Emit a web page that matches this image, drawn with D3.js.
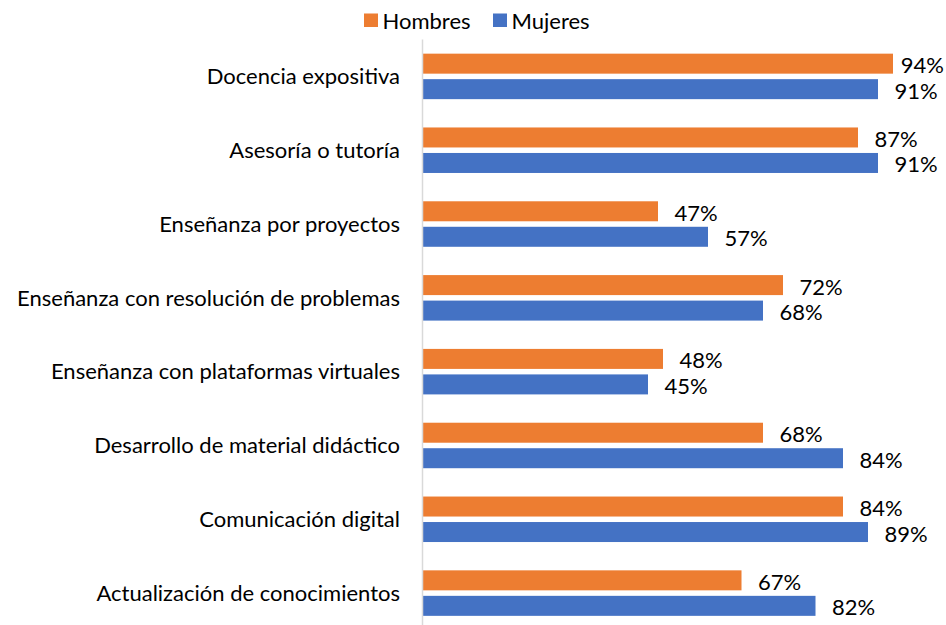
<!DOCTYPE html>
<html>
<head>
<meta charset="utf-8">
<script src="https://cdn.jsdelivr.net/npm/d3@7"></script>
<style>
  html, body { margin: 0; padding: 0; background: #fff; }
  svg { display: block; }
  text { font-family: Lato, "Open Sans", sans-serif; fill: #000; }
</style>
</head>
<body>
<svg id="chart" width="946" height="625"></svg>
<script>
const categories = [
  "Docencia expositiva",
  "Asesoría o tutoría",
  "Enseñanza por proyectos",
  "Enseñanza con resolución de problemas",
  "Enseñanza con plataformas virtuales",
  "Desarrollo de material didáctico",
  "Comunicación digital",
  "Actualización de conocimientos"
];
const seriesNames = ["Hombres", "Mujeres"];
// bar lengths as drawn in the reference (%)
const hombres = [94, 87, 47, 72, 48, 68, 84, 63.7];
const mujeres = [91, 91, 57, 68, 45, 84, 89, 78.5];
// data labels as printed in the reference
const hombresLabels = ["94%", "87%", "47%", "72%", "48%", "68%", "84%", "67%"];
const mujeresLabels = ["91%", "91%", "57%", "68%", "45%", "84%", "89%", "82%"];
const colors = ["#ED7D31", "#4472C4"];

const W = 946, H = 625;
const FS = 22;
const svg = d3.select("#chart");

const x = d3.scaleLinear().domain([0, 100]).range([423, 923]);
const y = d3.scaleBand().domain(categories).range([39.5, 630]).paddingInner(0).paddingOuter(0);
const sub = d3.scaleBand().domain(seriesNames).range([-22.75, 22.75]).paddingInner(0.2157);

const data = categories.map((c, i) => ({
  cat: c,
  vals: [
    { s: "Hombres", v: hombres[i], label: hombresLabels[i] },
    { s: "Mujeres", v: mujeres[i], label: mujeresLabels[i] }
  ]
}));

// bars
const g = svg.append("g");
const groups = g.selectAll("g.grp").data(data).join("g")
  .attr("class", "grp")
  .attr("transform", d => `translate(0,${y(d.cat) + y.bandwidth() / 2})`);

groups.selectAll("rect").data(d => d.vals).join("rect")
  .attr("x", x(0))
  .attr("y", d => sub(d.s))
  .attr("width", d => x(d.v) - x(0))
  .attr("height", sub.bandwidth())
  .attr("fill", (d, i) => colors[i]);

// data labels
groups.selectAll("text.lbl").data(d => d.vals).join("text")
  .attr("class", "lbl")
  .attr("font-size", FS)
  .attr("dominant-baseline", "central")
  .attr("y", d => sub(d.s) + sub.bandwidth() / 2 + 1)
  .text(d => d.label)
  .attr("x", function(d) {
    const w = this.getComputedTextLength();
    let px = x(d.v) + 16.5;
    if (px + w > W - 2) px = W - 2 - w;
    return px;
  });

// vertical axis line
svg.append("line")
  .attr("x1", x(0) - 0.5).attr("x2", x(0) - 0.5)
  .attr("y1", 39.5).attr("y2", H)
  .attr("stroke", "#d9d9d9").attr("stroke-width", 1.5);

// category axis labels
const yAxis = d3.axisLeft(y).tickSize(0).tickPadding(0);
const ag = svg.append("g").attr("transform", "translate(400,0)").call(yAxis);
ag.select(".domain").remove();
ag.selectAll("text")
  .attr("font-size", FS)
  .attr("font-family", "Lato, 'Open Sans', sans-serif")
  .attr("fill", "#000")
  .attr("dy", "0.35em");

// legend
const legend = svg.append("g");
const legX = [364, 493];
seriesNames.forEach((s, i) => {
  legend.append("rect")
    .attr("x", legX[i]).attr("y", 13.5)
    .attr("width", 14).attr("height", 13.5)
    .attr("fill", colors[i]);
  legend.append("text")
    .attr("x", legX[i] + 18.5).attr("y", 20.5)
    .attr("font-size", FS)
    .attr("dominant-baseline", "central")
    .text(s);
});
</script>
</body>
</html>
